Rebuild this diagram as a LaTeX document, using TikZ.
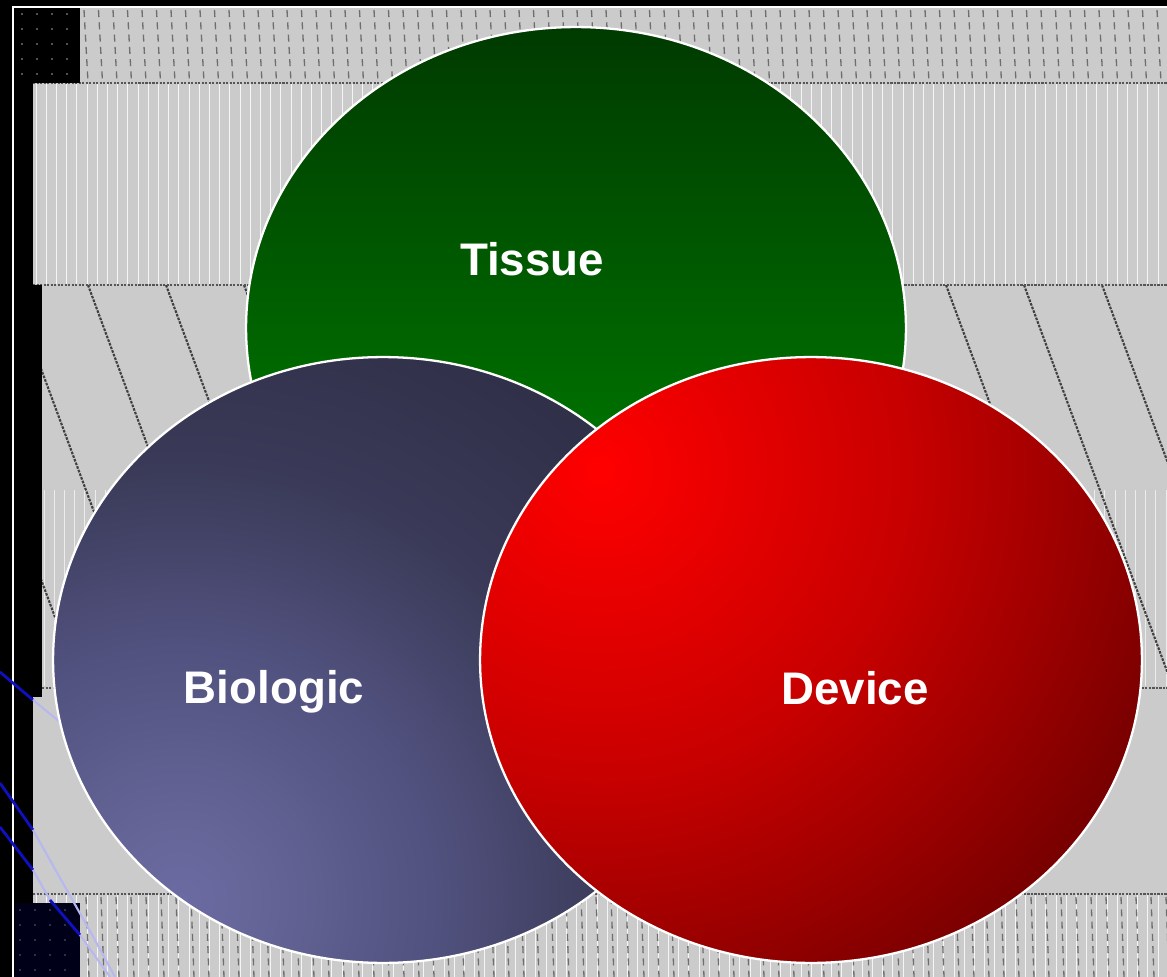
\documentclass[tikz,border=0pt]{standalone}
\usepackage{fontspec}
\setmainfont{Liberation Sans}
\definecolor{bggray}{HTML}{CBCBCB}
\definecolor{texdark}{HTML}{555555}
\definecolor{tisTop}{HTML}{003A00}
\definecolor{tisBot}{HTML}{008A00}
\definecolor{navyblk}{HTML}{000018}
\definecolor{blueln}{HTML}{1010C0}
\definecolor{faintblue}{HTML}{B8B8F0}
\definecolor{devOuter}{rgb}{0.42,0,0}
\definecolor{bioOuter}{rgb}{0.18,0.18,0.27}
\pgfdeclareradialshading{devshade}{\pgfpointorigin}{rgb(0bp)=(1,0,0); rgb(6.7bp)=(0.87,0,0); rgb(11.1bp)=(0.78,0,0); rgb(16.3bp)=(0.63,0,0); rgb(21.1bp)=(0.48,0,0); rgb(24bp)=(0.42,0,0); rgb(50bp)=(0.42,0,0)}
\pgfdeclareradialshading{bioshade}{\pgfpointorigin}{rgb(0bp)=(0.42,0.42,0.64); rgb(2.4bp)=(0.40,0.40,0.60); rgb(9.1bp)=(0.32,0.32,0.50); rgb(15.3bp)=(0.23,0.23,0.35); rgb(21.6bp)=(0.19,0.19,0.29); rgb(24bp)=(0.18,0.18,0.27); rgb(50bp)=(0.18,0.18,0.27)}
\begin{document}
\begin{tikzpicture}[x=0.02cm,y=-0.02cm,
  vline/.style={white!92!gray, line width=0.55pt},
  sepline/.style={texdark, line width=0.9pt, dash pattern=on 1.2pt off 0.8pt},
  squig/.style={texdark!85, line width=0.75pt, dash pattern=on 4pt off 3pt},
  diagline/.style={gray!50!black, line width=1.2pt, dash pattern=on 1.5pt off 0.7pt},
  outline/.style={draw=white, line width=1.3pt},
  lbl/.style={text=white, font=\fontsize{26}{30}\selectfont\bfseries, anchor=base, inner sep=0pt}]
\useasboundingbox (0,0) rectangle (1167,977);
% ---------- background ----------
\fill[black] (0,0) rectangle (1167,977);
\fill[bggray] (33,8) rectangle (1167,977);
% top squiggle band
\begin{scope}
\clip (80,8) rectangle (1167,83);
\foreach \x in {84,98.5,...,1170} {
  \draw[squig] (\x,10) -- (\x+4,82);
}
\end{scope}
% vertical line band
\foreach \x in {36,46.2,...,1167} {
  \draw[vline] (\x,84) -- (\x,284);
}
% lighter vertical band (middle)
\foreach \x in {44,54.2,...,1167} {
  \draw[vline, white!85!gray] (\x,490) -- (\x,686);
}
% bottom squiggle band
\begin{scope}
\clip (33,894) rectangle (1167,977);
\foreach \x in {36,46.2,...,1167} {
  \draw[vline] (\x,895) -- (\x,977);
}
\foreach \x in {86,101,...,1170} {
  \draw[squig] (\x,897) -- (\x+3,977);
}
\end{scope}
% diagonal lines
\begin{scope}
\clip (42,285) rectangle (1167,688);
\foreach \k in {-2,-1,...,15} {
  \draw[diagline] ({10+78*\k},285) -- ({10+78*\k+150},690);
}
\end{scope}
% separators
\draw[sepline] (33,83) -- (1167,83);
\draw[sepline] (33,285) -- (1167,285);
\draw[sepline] (42,688) -- (1167,688);
\draw[sepline] (33,894) -- (1167,894);
% black bars and blocks
\fill[black] (15,8) rectangle (80,83);
\fill[black] (15,8) rectangle (33,977);
\fill[black] (33,285) rectangle (42,697);
\fill[navyblk] (15,903) rectangle (80,977);
\foreach \xx in {22,37,52,67} \foreach \yy in {14,29,44,59,74} {
  \fill[gray!70] (\xx,\yy) circle (0.5pt);
}
\foreach \xx in {20,35,50,65} \foreach \yy in {910,925,940,955,970} {
  \fill[white!80!blue] (\xx,\yy) circle (0.35pt);
}
% white frame lines
\draw[white, line width=0.7pt] (13,977) -- (13,7) -- (1167,7);
% blue lines at lower left
\draw[blueln, line width=1.6pt] (0,672) -- (33,700);
\draw[faintblue, line width=1.2pt] (33,700) -- (60,722);
\draw[blueln, line width=1.6pt] (0,783) -- (33,830);
\draw[faintblue, line width=1.2pt] (33,830) -- (95,940) -- (115,977);
\draw[blueln, line width=1.6pt] (0,827) -- (33,870);
\draw[faintblue, line width=1.2pt] (33,870) -- (50,900);
\draw[blueln, line width=1.6pt] (50,900) -- (80,935);
\draw[faintblue, line width=1.2pt] (80,935) -- (110,977);
% ---------- ellipses ----------
% Tissue
\path[outline, top color=tisTop, bottom color=tisBot] (576,328) ellipse [x radius=6.6cm, y radius=6.02cm];
% Biologic
\begin{scope}
\clip (383,660) ellipse [x radius=6.6cm, y radius=6.06cm];
\fill[bioOuter] (383,660) ellipse [x radius=6.6cm, y radius=6.06cm];
\path[shading=bioshade] (180,900) circle (14cm);
\end{scope}
\draw[outline] (383,660) ellipse [x radius=6.6cm, y radius=6.06cm];
% Device
\begin{scope}
\clip (811,660) ellipse [x radius=6.62cm, y radius=6.06cm];
\fill[devOuter] (811,660) ellipse [x radius=6.62cm, y radius=6.06cm];
\path[shading=devshade] (600,470) circle (14cm);
\end{scope}
\draw[outline] (811,660) ellipse [x radius=6.62cm, y radius=6.06cm];
% ---------- labels ----------
\node[lbl] (tissue) at (532,275) {Tissue};
\node[lbl] (biologic) at (274,703) {Biologic};
\node[lbl] (device) at (855,704) {Device};
\end{tikzpicture}
\end{document}
